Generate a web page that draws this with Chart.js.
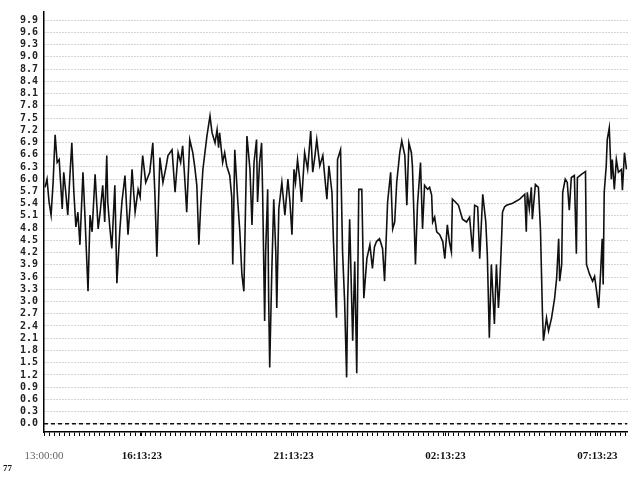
<!DOCTYPE html>
<html>
<head>
<meta charset="utf-8">
<title>Registro</title>
<script src="https://cdn.jsdelivr.net/npm/chart.js@4.4.0/dist/chart.umd.min.js"></script>
<style>
  body { margin: 0; background: #fff; }
  #wrap { position: relative; width: 640px; height: 477px; overflow: hidden; }
  #nota { position: absolute; left: 3px; top: 463px; font: bold 9px "Liberation Serif"; color: #111; }
</style>
</head>
<body>
<div id="wrap"><canvas id="grafica"></canvas><div id="nota">77</div></div>
<script>
// minutos desde las 13:00:00
const minutos = [
  2,6,10,14,18,22,26,30,36,39, 43,47,51,55,59,63,67,71,77,81,
  87,91,95,101,107,111,116,120,124,126, 130,134,140,144,150,154,160,166,170,174,
  180,186,190,193,195,201,209,215,219,223, 229,235,241,245,253,259,265,270,274,278,
  282,288,294,298,302,306,310,314,318,322, 328,332,334,338,342,345,347,353,357,361,
  367,371,373,377,383,387,391,395,401,407, 411,415,420,422,426,430,432,436,438,442,
  444,446,450,454,458,460,464,470,476,482, 486,490,494,497,501,505,509,515,521,527,
  531,535,539,545,551,555,559,563,569,572, 578,580,586,590,594,598,600,604,608,610,
  614,618,622,628,632,638,644,649,653,657, 663,669,673,679,685,689,693,697,703,707,
  713,717,721,726,728,734,738,744,748,752, 758,762,766,768,772,776,782,788,792,797,
  801,805,807,813,819,827,835,841,847,851, 857,861,867,873,876,880,884,890,894,898,
  900,904,906,910,914,926,940,950,953,955, 959,963,965,971,977,981,985,987,993,997,
  1003,1009,1013,1017,1019,1023,1025,1030,1034,1038, 1042,1048,1052,1054,1062,1070,1072,1078,1084,1088,
  1092,1096,1100,1103,1105,1107,1111,1113,1117,1121, 1123,1127,1131,1135,1141,1143,1147,1151
];

const valores = [
  5.80,6.00,5.44,5.12,5.92,7.09,6.41,6.48,5.27,6.17, 5.68,5.12,6.04,6.89,5.68,4.83,5.19,4.39,6.17,5.07,
  3.25,5.12,4.71,6.12,4.78,5.19,5.85,4.95,6.58,5.44, 4.83,4.30,5.85,3.45,4.78,5.44,6.09,4.64,5.32,6.24,
  5.19,5.75,5.56,6.24,6.58,5.92,6.17,6.89,5.68,4.10, 6.53,5.92,6.29,6.58,6.72,5.68,6.65,6.41,6.82,6.04,
  5.19,6.97,6.65,6.29,5.85,4.39,5.44,6.24,6.65,7.06, 7.55,7.14,7.06,6.89,7.21,6.77,7.14,6.41,6.65,6.33,
  6.09,5.56,3.91,6.72,5.44,4.71,3.67,3.25,7.06,6.24, 4.88,6.41,6.97,5.44,6.41,6.89,5.68,2.52,4.22,5.75,
  3.01,1.38,3.67,5.51,4.22,2.84,5.27,5.92,5.12,6.00, 5.44,4.64,6.24,5.92,6.48,6.04,5.44,6.65,6.24,7.18,
  6.17,6.53,6.97,6.33,6.58,6.04,5.51,6.33,5.68,4.47, 2.60,6.48,6.72,4.22,3.01,1.14,3.01,5.02,3.01,2.04,
  3.98,1.24,5.75,5.75,3.08,4.05,4.39,3.81,4.34,4.47, 4.54,4.30,3.50,5.44,6.17,4.78,4.95,5.92,6.65,6.94,
  6.58,5.36,6.89,6.65,6.33,3.91,5.36,6.41,4.78,5.85, 5.75,5.80,5.61,4.95,5.07,4.71,4.64,4.47,4.05,4.88,
  4.47,4.22,5.51,5.44,5.36,5.02,4.95,5.07,4.22,5.36, 5.32,4.05,5.63,4.95,4.15,2.11,3.91,2.45,3.91,2.84,
  3.25,4.47,5.19,5.32,5.36,5.41,5.51,5.63,4.71,5.68, 5.27,5.80,5.02,5.87,5.80,4.78,2.69,2.04,2.60,2.28,
  2.60,3.08,3.57,4.54,3.50,3.91,5.68,6.00,5.92,5.24, 6.04,6.09,4.17,6.04,6.12,6.19,3.91,3.67,3.50,3.62,
  3.25,2.84,3.74,4.54,3.42,5.68,6.33,6.97,7.26,6.00, 6.48,5.75,6.48,6.17,6.24,5.73,6.65,6.24
];

// linea discontinua en cero
const minutosCero = [0, 1153];
const valoresCero = [0, 0];

const marcasY = [0.0,0.3,0.6,0.9,1.2,1.5,1.8,2.1,2.4,2.7,3.0,3.3,3.6,3.9,4.2,4.5,4.8,5.1,5.4,5.7,
  6.0,6.3,6.6,6.9,7.2,7.5,7.8,8.1,8.4,8.7,9.0,9.3,9.6,9.9];

const marcasX = [0, 193.38, 493.38, 793.38, 1093.38];
const etiquetasX = ['13:00:00', '16:13:23', '21:13:23', '02:13:23', '07:13:23'];
const finEje = 1153;

const puntos = minutos.map((m, i) => ({ x: m, y: valores[i] }));
const puntosCero = minutosCero.map((m, i) => ({ x: m, y: valoresCero[i] }));

new Chart(document.getElementById('grafica'), {
  type: 'line',
  data: {
    datasets: [{
      data: puntos,
      borderColor: '#111',
      borderWidth: 1.6,
      pointRadius: 0,
      tension: 0
    }, {
      data: puntosCero,
      borderColor: '#111',
      borderWidth: 1.5,
      borderDash: [4, 3],
      pointRadius: 0
    }]
  },
  options: {
    responsive: true,
    maintainAspectRatio: false,
    animation: false,
    layout: { padding: { top: 8, right: 12, left: 0, bottom: 0 } },
    plugins: { legend: { display: false }, tooltip: { enabled: false } },
    scales: {
      x: {
        type: 'linear',
        min: 0,
        max: finEje,
        afterBuildTicks: s => {
          const t = [];
          for (let m = 0; m <= finEje; m += 10) t.push({ value: m });
          marcasX.forEach(v => { if (v !== 0) t.push({ value: v }); });
          t.sort((a, b) => a.value - b.value);
          s.ticks = t;
        },
        afterFit: s => { s.height = 45; },
        border: { display: true, color: '#000', width: 1.5 },
        grid: { drawOnChartArea: false, drawTicks: true, tickLength: 4, color: '#000', lineWidth: 1 },
        ticks: {
          autoSkip: false,
          maxRotation: 0,
          minRotation: 0,
          padding: 14,
          callback: v => {
            const i = marcasX.indexOf(v);
            return i >= 0 ? etiquetasX[i] : '';
          },
          font: ctx => ({
            family: '"Liberation Serif", serif',
            size: 11,
            weight: ctx.tick && ctx.tick.value === 0 ? 'normal' : 'bold'
          }),
          color: ctx => (ctx.tick && ctx.tick.value === 0 ? '#666' : '#111')
        }
      },
      y: {
        min: -0.2,
        max: 10.1,
        afterBuildTicks: s => { s.ticks = marcasY.map(v => ({ value: v })); },
        afterFit: s => { s.width = 44; },
        border: { display: true, color: '#000', width: 1.5, dash: [1, 2] },
        grid: { color: '#aaa', lineWidth: 1, drawTicks: false },
        ticks: {
          autoSkip: false,
          padding: 6,
          callback: v => v.toFixed(1),
          font: { family: '"DejaVu Sans Mono", monospace', size: 10, weight: 'bold' },
          color: '#222'
        }
      }
    }
  }
});
</script>
</body>
</html>
